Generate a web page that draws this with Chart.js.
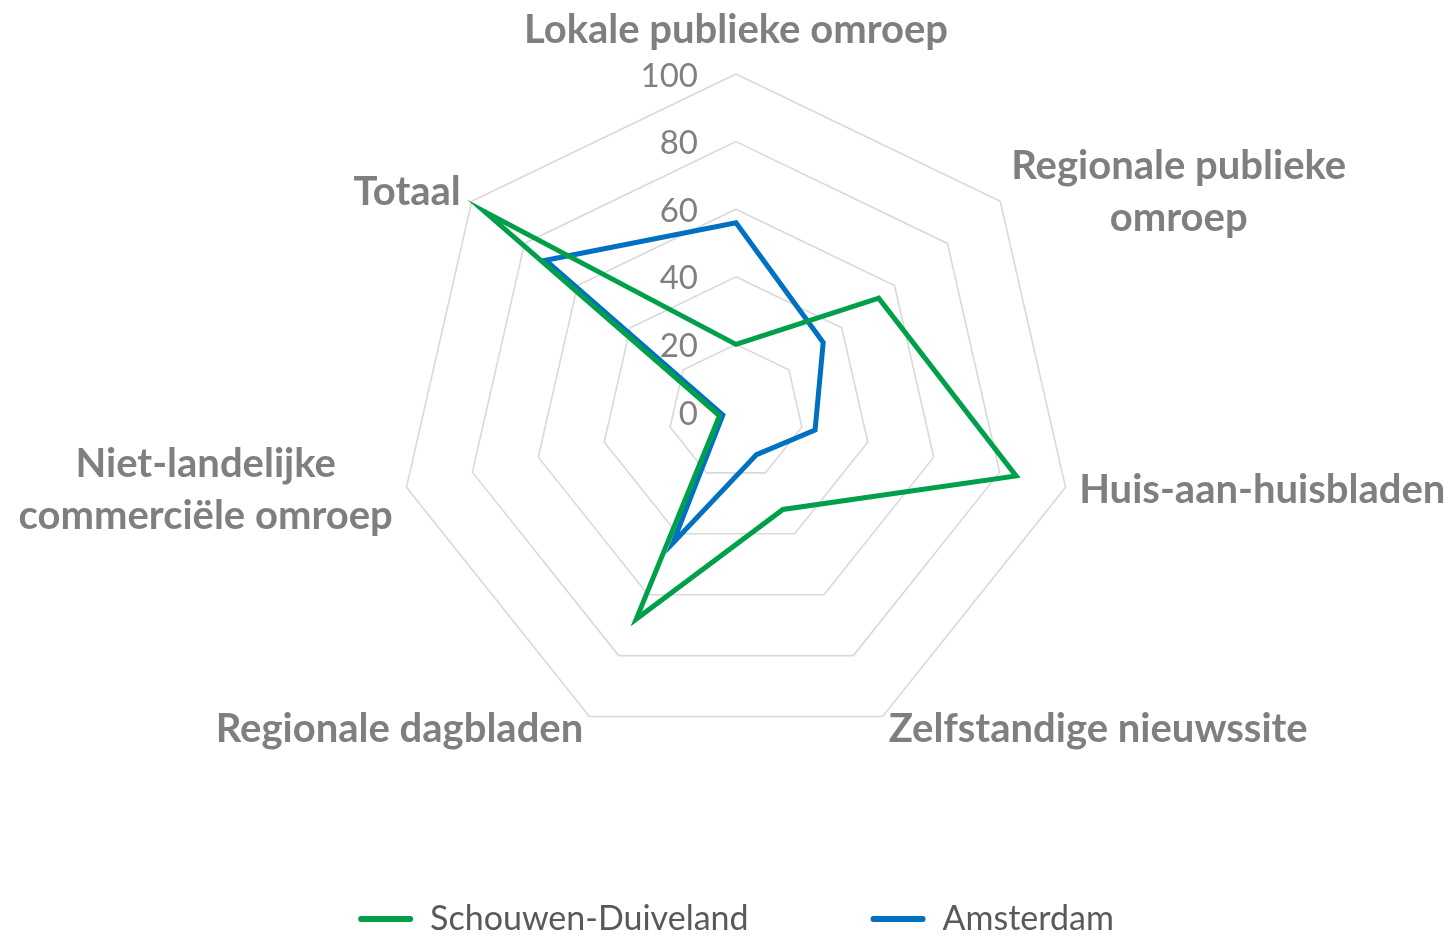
<!DOCTYPE html>
<html>
<head>
<meta charset="utf-8">
<script src="https://cdn.jsdelivr.net/npm/chart.js@4/dist/chart.umd.min.js"></script>
<style>
	html, body { margin: 0; padding: 0; background: #fff; }
	#wrap { width: 1448px; height: 936px; }
</style>
</head>
<body>
<div id="wrap"><canvas id="myChart" width="1448" height="936"></canvas></div>
<script>
const categories = [
	'Lokale publieke omroep',
	['Regionale publieke', 'omroep'],
	'Huis-aan-huisbladen',
	'Zelfstandige nieuwssite',
	'Regionale dagbladen',
	['Niet-landelijke', 'commerciële omroep'],
	'Totaal'
];
const schouwenDuiveland = [20, 54, 85, 32, 68, 5, 95];
const amsterdam = [56, 33, 24, 14, 43, 4, 72];
const tickValues = [0, 20, 40, 60, 80, 100];

// tick labels sit left of the vertical axis, category labels are centred blocks (Excel style)
const labelPlugin = {
	id: 'radarLabels',
	afterDatasetsDraw(chart) {
		const scale = chart.scales.r;
		const ctx = chart.ctx;
		ctx.save();

		ctx.font = '33px Lato';
		ctx.fillStyle = '#808080';
		ctx.textAlign = 'right';
		ctx.textBaseline = 'middle';
		tickValues.forEach(function (v) {
			const d = scale.getDistanceFromCenterForValue(v);
			ctx.fillText(String(v), scale.xCenter - 38, scale.yCenter - d + 2);
		});

		ctx.font = 'bold 40px Lato';
		ctx.fillStyle = '#7f7f7f';
		ctx.textAlign = 'center';
		const lineH = 52;
		categories.forEach(function (lab, i) {
			const lines = Array.isArray(lab) ? lab : [lab];
			const p = scale.getPointPosition(i, scale.drawingArea + 14);
			const w = Math.max.apply(null, lines.map(function (l) { return ctx.measureText(l).width; }));
			const h = lines.length * lineH;
			let cx = p.x;
			let top = p.y - h / 2;
			if (p.x > scale.xCenter + 1) cx = p.x + w / 2;
			else if (p.x < scale.xCenter - 1) cx = p.x - w / 2;
			else top = p.y - h - 4;
			lines.forEach(function (l, k) {
				ctx.fillText(l, cx, top + lineH * k + lineH / 2);
			});
		});
		ctx.restore();
	}
};

document.addEventListener('DOMContentLoaded', function () {
	const chart1 = document.getElementById('myChart').getContext('2d');

	new Chart(chart1, {
		type: 'radar',
		data: {
			labels: categories,
			datasets: [
				{
					label: 'Schouwen-Duiveland',
					data: schouwenDuiveland,
					borderColor: '#00a04a',
					backgroundColor: '#00a04a',
					borderWidth: 5,
					borderJoinStyle: 'miter',
					pointRadius: 0,
					fill: false,
				},
				{
					label: 'Amsterdam',
					data: amsterdam,
					borderColor: '#0070c0',
					backgroundColor: '#0070c0',
					borderWidth: 5,
					borderJoinStyle: 'miter',
					pointRadius: 0,
					fill: false,
				},
			],
		},
		options: {
			responsive: false,
			animation: false,
			layout: {
				padding: { top: 74, bottom: -10, left: 24, right: 0 }
			},
			scales: {
				r: {
					min: 0,
					max: 100,
					ticks: { stepSize: 20, display: false },
					angleLines: { display: false },
					grid: { color: '#d9d9d9', lineWidth: 1.6 },
					pointLabels: { display: false }
				}
			},
			plugins: {
				legend: {
					position: 'bottom',
					title: { display: true, text: ' ', font: { size: 10 }, padding: { top: 0, bottom: 18 } },
					labels: {
						boxWidth: 55,
						boxHeight: 6,
						padding: 122,
						useBorderRadius: true,
						color: '#595959',
						font: { family: 'Lato', size: 34 },
						generateLabels: function (chart) {
							return Chart.defaults.plugins.legend.labels.generateLabels(chart).map(function (item) {
								item.lineWidth = 0;
								item.borderRadius = 3;
								return item;
							});
						}
					}
				},
				tooltip: { enabled: false }
			}
		},
		plugins: [labelPlugin]
	});
});
</script>
</body>
</html>
